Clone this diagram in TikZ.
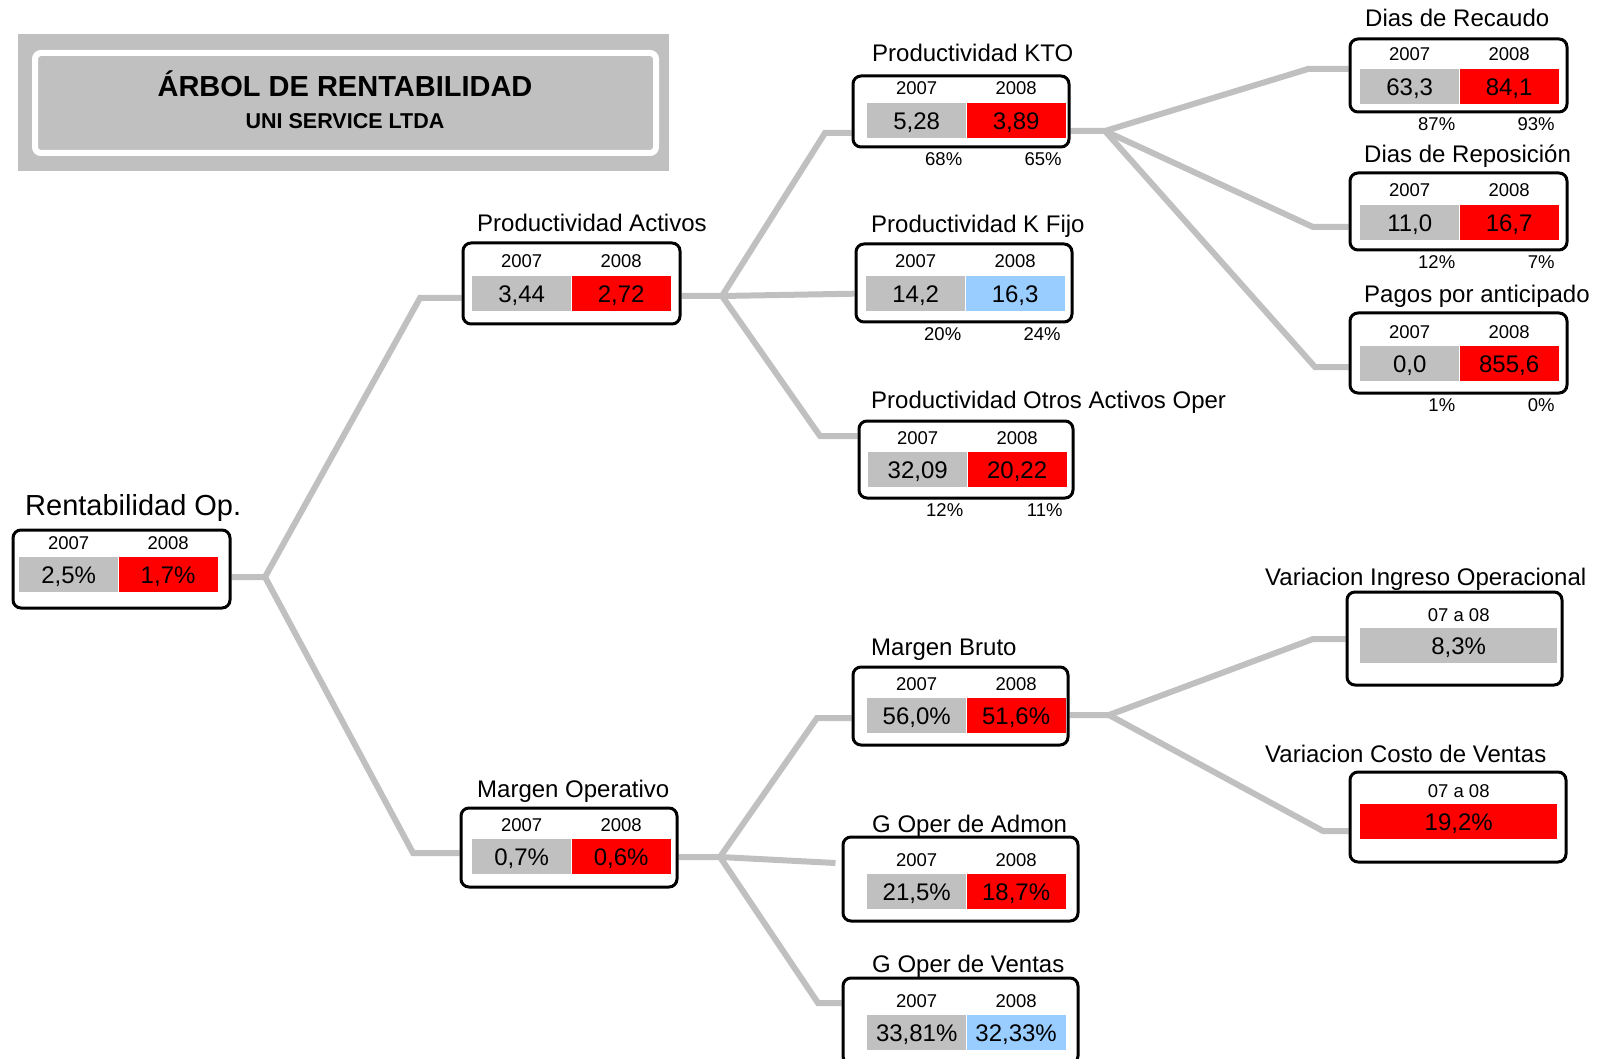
\documentclass[tikz,border=0pt]{standalone}
\usepackage{fontspec}
\setmainfont{Liberation Sans}
\usepackage{tikz}
\usetikzlibrary{fit,backgrounds}
\definecolor{c07}{HTML}{C0C0C0}
\definecolor{cred}{HTML}{FF0000}
\definecolor{cblue}{HTML}{99CCFF}
% box with two years: name, nw, se, cell nw, title pos, title, 2007, 2008, colour 2008
\newcommand{\yrbox}[9]{%
  \node[box,fit={#2 #3}] (#1) {};
  \node[cell,anchor=north west,fill=c07] (#1-a) at #4 {#7};
  \node[cell,anchor=west,fill=#9] (#1-b) at (#1-a.east) {#8};
  \node[yr,anchor=base,yshift=8pt] at (#1-a.north) {2007};
  \node[yr,anchor=base,yshift=8pt] at (#1-b.north) {2008};
  \node[ttl,anchor=base west] at #5 {#6};}
% box with one variation
\newcommand{\varbox}[8]{%
  \node[box,fit={#2 #3}] (#1) {};
  \node[cell,minimum width=197pt,anchor=north west,fill=#8] (#1-a) at #4 {#7};
  \node[yr,anchor=base,yshift=7pt] at (#1-a.north) {07 a 08};
  \node[ttl,anchor=base west] at #5 {#6};}
\newcommand{\pcts}[3]{%
  \node[yr,anchor=base east,xshift=-4pt,yshift=-17pt] at (#1-a.east |- #1.south) {#2};
  \node[yr,anchor=base east,xshift=-4pt,yshift=-17pt] at (#1-b.east |- #1.south) {#3};}
\begin{document}
\begin{tikzpicture}[x=1pt,y=-1pt,
box/.style={draw,line width=3pt,rounded corners=8pt,fill=white,inner sep=0pt},
cell/.style={minimum width=99pt,minimum height=35pt,inner sep=0pt,text height=17pt,text depth=0pt,font=\fontsize{24}{24}\selectfont},
yr/.style={inner sep=0pt,font=\fontsize{18.5}{20}\selectfont},
ttl/.style={inner sep=0pt,font=\fontsize{24}{26}\selectfont},
link/.style={draw=c07,line width=6pt},
band/.style={fill=c07,inner sep=0pt},
hdr/.style={draw=white,line width=6pt,rounded corners=6pt,fill=c07,inner sep=0pt}]
\useasboundingbox (0,0) rectangle (1601,1059);
\clip (0,0) rectangle (1601,1059);
% heading
\node[band,fit={(18,34)(669,171)}] (band) {};
\node[hdr,fit={(35,53)(656,153)}] (hdr) {};
\node[anchor=base,inner sep=0pt,font=\bfseries\fontsize{29}{29}\selectfont] (head) at (345,97) {ÁRBOL DE RENTABILIDAD};
\node[anchor=base,inner sep=0pt,font=\bfseries\fontsize{21.5}{22}\selectfont] (firm) at (345,129) {UNI SERVICE LTDA};
% boxes
\yrbox{rent}{(13,530)}{(230,608)}{(19,557)}{(25,515)}{\fontsize{29}{30}\selectfont Rentabilidad Op.}{2,5\%}{1,7\%}{cred}
\yrbox{act}{(463,243)}{(680,324)}{(472,276)}{(477,232)}{Productividad Activos}{3,44}{2,72}{cred}
\yrbox{mop}{(461,808)}{(677,887)}{(472,839)}{(477,797)}{Margen Operativo}{0,7\%}{0,6\%}{cred}
\yrbox{kto}{(853,76)}{(1069,147)}{(867,103)}{(872,62)}{Productividad KTO}{5,28}{3,89}{cred}
\yrbox{kfi}{(856,244)}{(1072,322)}{(866,276)}{(871,233)}{Productividad K Fijo}{14,2}{16,3}{cblue}
\yrbox{otr}{(859,421)}{(1073,498)}{(868,452)}{(871,408)}{Productividad Otros Activos Oper}{32,09}{20,22}{cred}
\yrbox{mbr}{(853,667)}{(1068,745)}{(867,698)}{(871,655)}{Margen Bruto}{56,0\%}{51,6\%}{cred}
\yrbox{gad}{(843,837)}{(1078,921)}{(867,874)}{(872,832)}{G Oper de Admon}{21,5\%}{18,7\%}{cred}
\yrbox{gve}{(843,978)}{(1078,1064)}{(867,1015)}{(872,972)}{G Oper de Ventas}{33,81\%}{32,33\%}{cblue}
\yrbox{rec}{(1350,39)}{(1567,112)}{(1360,69)}{(1365,27)}{Dias de Recaudo}{63,3}{84,1}{cred}
\yrbox{rep}{(1350,173)}{(1567,250)}{(1360,205)}{(1364,163)}{Dias de Reposición}{11,0}{16,7}{cred}
\yrbox{pag}{(1350,313)}{(1567,393)}{(1360,346)}{(1364,303)}{Pagos por anticipado}{0,0}{855,6}{cred}
\varbox{ing}{(1347,592)}{(1562,685)}{(1360,628)}{(1265,585)}{Variacion Ingreso Operacional}{8,3\%}{c07}
\varbox{cos}{(1350,772)}{(1566,862)}{(1360,804)}{(1265,762)}{Variacion Costo de Ventas}{19,2\%}{cred}
\pcts{kto}{68\%}{65\%}
\pcts{kfi}{20\%}{24\%}
\pcts{otr}{12\%}{11\%}
\pcts{rec}{87\%}{93\%}
\pcts{rep}{12\%}{7\%}
\pcts{pag}{1\%}{0\%}
% junctions and bends
\coordinate (j0) at (265,577);
\coordinate (j1) at (722,296);
\coordinate (j2) at (720,857);
\coordinate (j3) at (1105,131);
\coordinate (j4) at (1109,715);
\coordinate (b-act) at (420,298);
\coordinate (b-mop) at (413,853);
\coordinate (b-kto) at (825,133);
\coordinate (b-otr) at (820,436);
\coordinate (b-mbr) at (817,718);
\coordinate (b-gve) at (818,1003);
\coordinate (b-rec) at (1308,69);
\coordinate (b-rep) at (1313,227);
\coordinate (b-pag) at (1315,367);
\coordinate (b-ing) at (1313,639);
\coordinate (b-cos) at (1323,831);
\coordinate (e-gad) at ([xshift=-6pt,yshift=16pt]gad.west);
\begin{scope}[on background layer]
\draw[link] (rent.east |- j0) -- (j0) -- (b-act) -- (act.west |- b-act);
\draw[link] (j0) -- (b-mop) -- (mop.west |- b-mop);
\draw[link] (act.east |- j1) -- (j1) -- (b-kto) -- (kto.west |- b-kto);
\draw[link] (j1) -- (kfi.west |- kfi-a);
\draw[link] (j1) -- (b-otr) -- (otr.west |- b-otr);
\draw[link] (mop.east |- j2) -- (j2) -- (b-mbr) -- (mbr.west |- b-mbr);
\draw[link] (j2) -- (e-gad);
\draw[link] (j2) -- (b-gve) -- (gve.west |- b-gve);
\draw[link] (kto.east |- j3) -- (j3) -- (b-rec) -- (rec.west |- b-rec);
\draw[link] (j3) -- (b-rep) -- (rep.west |- b-rep);
\draw[link] (j3) -- (b-pag) -- (pag.west |- b-pag);
\draw[link] (mbr.east |- j4) -- (j4) -- (b-ing) -- (ing.west |- b-ing);
\draw[link] (j4) -- (b-cos) -- (cos.west |- b-cos);
\end{scope}
\end{tikzpicture}
\end{document}
